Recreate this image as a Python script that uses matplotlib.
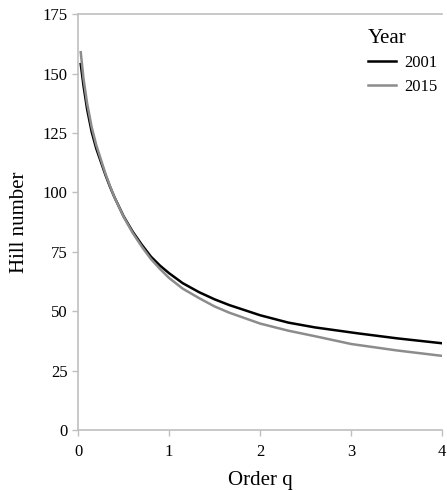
import matplotlib
matplotlib.use("Agg")
from matplotlib import pyplot as plt

# Hill number profiles by order q
q_2001 = [0.03, 0.06, 0.1, 0.15, 0.2, 0.25, 0.3, 0.35, 0.4, 0.5, 0.6, 0.7, 0.8, 0.9, 1.0,
          1.15, 1.33, 1.5, 1.66, 2.0, 2.31, 2.6, 3.07, 3.5, 4.0]
hill_2001 = [154, 145, 135, 125.5, 118.5, 113, 107.5, 102.5, 98, 90, 83.5, 78, 73, 69.2, 66,
             61.8, 58, 55, 52.6, 48.3, 45.2, 43.2, 40.7, 38.6, 36.5]

q_2015 = [0.03, 0.06, 0.1, 0.15, 0.2, 0.25, 0.3, 0.35, 0.4, 0.5, 0.6, 0.7, 0.8, 0.9, 1.0,
          1.15, 1.33, 1.5, 1.66, 2.0, 2.31, 2.6, 3.0, 3.5, 4.0]
hill_2015 = [159, 148, 137.5, 127.5, 120, 114, 108, 102.8, 98, 89.8, 83, 77.2, 72, 67.8, 64,
             59.5, 55.5, 52, 49.4, 44.8, 41.8, 39.5, 36.2, 33.5, 31.2]

plt.rcParams['font.family'] = ['Liberation Serif', 'DejaVu Serif']

fig = plt.figure(figsize=(4.47, 4.9), dpi=100)
ax = fig.add_axes([0.1745, 0.1224, 0.815, 0.8486])

ax.plot(q_2001, hill_2001, color='black', lw=1.8, label='2001')
ax.plot(q_2015, hill_2015, color='#8c8c8c', lw=1.8, label='2015')

ax.set_xlim(0, 4)
ax.set_ylim(0, 175)
ax.set_xticks([0, 1, 2, 3, 4])
ax.set_yticks([0, 25, 50, 75, 100, 125, 150, 175])
ax.tick_params(labelsize=12, colors='#bfbfbf', labelcolor='black', length=4, width=1)
ax.tick_params(axis='x', pad=6)

for side in ['left', 'bottom', 'top']:
    ax.spines[side].set_color('#bfbfbf')
    ax.spines[side].set_linewidth(1.2)
ax.spines['right'].set_visible(False)

ax.set_xlabel('Order q', fontsize=15, labelpad=8)
ax.set_ylabel('Hill number', fontsize=15, labelpad=10)

leg = ax.legend(title='Year', loc='upper right', frameon=False, fontsize=12,
                title_fontsize=15, handlelength=1.7, handletextpad=0.5,
                labelspacing=0.45, borderaxespad=0.1,
                bbox_to_anchor=(1.01, 0.985))
leg._legend_box.align = 'left'

fig.savefig('out.png', dpi=100)
